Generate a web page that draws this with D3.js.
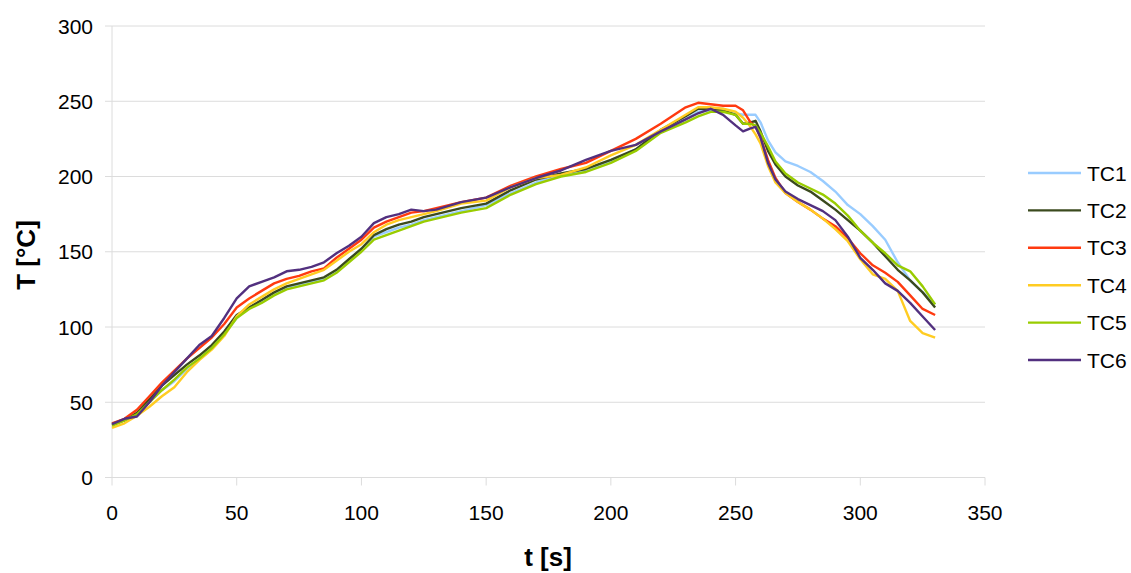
<!DOCTYPE html>
<html>
<head>
<meta charset="utf-8">
<script src="https://cdn.jsdelivr.net/npm/d3@7"></script>
<style>
	body { margin: 0; background: #fff; }
	text { font-family: "Liberation Sans", Arial, sans-serif; fill: #000; }
</style>
</head>
<body>
<script>
// time in seconds, shared by all thermocouples
var times = [0,5,10,15,20,25,30,35,40,45,50,55,60,65,70,75,80,85,90,95,100,105,110,115,120,125,130,140,150,160,170,180,190,200,210,220,230,235,240,245,250,253,256,258,260,263,266,270,275,280,285,290,295,300,305,310,315,320,325,330];

var tc1 = [36,38,42,50,58,64,72,79,86,95,106,113,117,122,126,128,130,132,137,145,152,160,163,166,168,171,173,177,181,189,196,201,204,210,218,230,238,243,244,245,242,241,241,241,236,224,216,210,207,203,197,190,181,175,167,158,143,131,123,115];
var tc2 = [35,38,43,52,61,68,75,81,88,97,108,113,118,123,127,129,131,133,138,145,152,161,165,168,170,173,175,179,182,191,198,202,205,211,218,231,240,245,245,244,241,235,236,237,230,217,208,200,194,190,184,178,171,164,156,147,138,131,123,113];
var tc3 = [36,39,45,54,63,71,79,86,93,102,113,119,124,129,132,134,137,139,146,152,158,166,170,173,176,177,179,183,186,194,200,205,209,217,225,235,246,249,248,247,247,244,236,233,226,211,199,189,183,178,172,167,159,149,141,136,130,121,112,108];
var tc4 = [33,36,41,47,54,60,70,78,85,94,107,115,120,125,129,132,135,138,144,150,155,163,168,171,173,175,177,182,184,193,199,201,206,214,221,231,241,246,246,245,243,239,233,228,222,207,196,189,183,178,172,165,157,145,135,132,124,104,96,93];
var tc5 = [34.5,38,42,50,58,65,73,79,86,95,106,112,116,121,125,127,129,131,136,143,150,158,161,164,167,170,172,176,179,188,195,200,203,209,217,229,236,240,243,243,241,235,235,234,229,220,210,202,196,192,188,182,174,164,156,149,141,137,127,115];
var tc6 = [35.5,39,40.5,50,61,70,79,88,94,106,119,127,130,133,137,138,140,143,149,154,160,169,173,175,178,177,178,183,186,193,199,204,211,217,221,230,238,242,245,241,234,230,232,233,226,209,198,190,185,181,177,171,160,146,138,129,124,116,107,98];

var seriesNames = ["TC1","TC2","TC3","TC4","TC5","TC6"];
var seriesValues = [tc1, tc2, tc3, tc4, tc5, tc6];
var seriesColors = ["#99ccff","#3b4a1e","#ff3a10","#ffcc22","#99cc00","#52307f"];

var xTicks = [0,50,100,150,200,250,300,350];
var yTicks = [0,50,100,150,200,250,300];

var w = 1131;
var h = 573;
var plotLeft = 112, plotRight = 985, plotTop = 26, plotBottom = 477.5;

var svg = d3.select("body")
			.append("svg")
			.attr("width", w)
			.attr("height", h);

var xScale = d3.scaleLinear()
				.domain([0, 350])
				.range([plotLeft, plotRight]);

var yScale = d3.scaleLinear()
				.domain([0, 300])
				.range([plotBottom, plotTop]);

// horizontal gridlines
svg.append("g")
		.selectAll("line")
		.data(yTicks)
		.enter()
		.append("line")
		.attr("x1", plotLeft - 7)
		.attr("x2", plotRight)
		.attr("y1", d => yScale(d))
		.attr("y2", d => yScale(d))
		.attr("stroke", "#dcdcdc")
		.attr("stroke-width", 1);

// y axis line
svg.append("line")
		.attr("x1", plotLeft).attr("x2", plotLeft)
		.attr("y1", plotTop).attr("y2", plotBottom)
		.attr("stroke", "#dcdcdc")
		.attr("stroke-width", 1);

// x ticks
svg.append("g")
		.selectAll("line")
		.data(xTicks)
		.enter()
		.append("line")
		.attr("x1", d => xScale(d))
		.attr("x2", d => xScale(d))
		.attr("y1", plotBottom)
		.attr("y2", plotBottom + 8)
		.attr("stroke", "#dcdcdc")
		.attr("stroke-width", 1);

svg.append("g")
		.selectAll("text")
		.data(yTicks)
		.enter()
		.append("text")
		.attr("x", 93)
		.attr("y", d => yScale(d) + 7.5)
		.attr("text-anchor", "end")
		.attr("font-size", 21)
		.text(d => d);

svg.append("g")
		.selectAll("text")
		.data(xTicks)
		.enter()
		.append("text")
		.attr("x", d => xScale(d))
		.attr("y", 520)
		.attr("text-anchor", "middle")
		.attr("font-size", 21)
		.text(d => d);

// axis titles
svg.append("text")
		.attr("x", 548)
		.attr("y", 566)
		.attr("text-anchor", "middle")
		.attr("font-size", 26)
		.attr("font-weight", "bold")
		.text("t [s]");

svg.append("text")
		.attr("x", 0)
		.attr("y", 0)
		.attr("text-anchor", "middle")
		.attr("font-size", 26)
		.attr("font-weight", "bold")
		.attr("transform", "translate(35,255) rotate(-90)")
		.text("T [°C]");

var line = d3.line()
				.x((d, i) => xScale(times[i]))
				.y(d => yScale(d));

svg.append("g")
		.selectAll("path")
		.data(seriesValues)
		.enter()
		.append("path")
		.attr("d", d => line(d))
		.attr("fill", "none")
		.attr("stroke", (d, i) => seriesColors[i])
		.attr("stroke-width", 2.4)
		.attr("stroke-linejoin", "round");

// legend
var legend = svg.append("g")
				.selectAll("g")
				.data(seriesNames)
				.enter()
				.append("g")
				.attr("transform", (d, i) => "translate(0," + (173 + i * 37.4) + ")");

legend.append("line")
		.attr("x1", 1028)
		.attr("x2", 1081)
		.attr("y1", 0)
		.attr("y2", 0)
		.attr("stroke", (d, i) => seriesColors[i])
		.attr("stroke-width", 2.4);

legend.append("text")
		.attr("x", 1087)
		.attr("y", 7.5)
		.attr("font-size", 21)
		.text(d => d);
</script>
</body>
</html>
